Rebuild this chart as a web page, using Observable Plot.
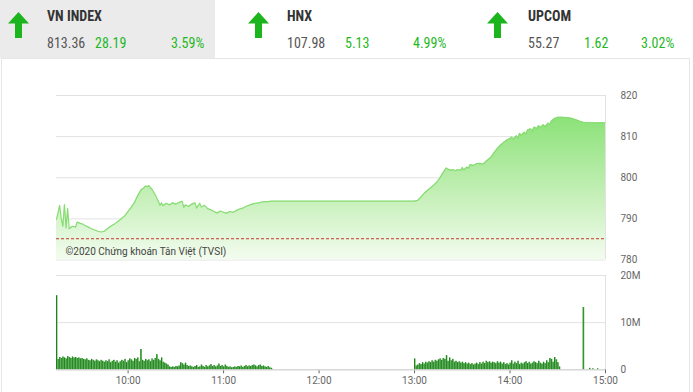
<!DOCTYPE html>
<html><head><meta charset="utf-8">
<script src="https://cdn.jsdelivr.net/npm/d3@7"></script>
<script src="https://cdn.jsdelivr.net/npm/@observablehq/plot@0.6"></script>
<style>
body{margin:0;background:#fff;width:693px;height:392px;overflow:hidden;position:relative;font-family:Roboto,sans-serif}
.tab{position:absolute;left:0;top:0;width:215px;height:58px;background:#ebebeb}
.panel{position:absolute;left:1px;top:58px;width:689px;height:340px;border:1px solid #e6e6e6;box-sizing:border-box}
.arrow{position:absolute;top:12px}
.name{position:absolute;top:8px;font:bold 14px "Roboto Condensed","Liberation Sans Narrow","DejaVu Sans Condensed",sans-serif;color:#333}
.num{position:absolute;top:35px;font:14px "Roboto Condensed","Liberation Sans Narrow","DejaVu Sans Condensed",sans-serif;color:#555}
.g{color:#1fb81f}
#price{position:absolute;left:0;top:58px}
#vol{position:absolute;left:0;top:265px}
svg{background:transparent!important}
</style></head><body>
<div class="tab"></div>
<div class="panel"></div>
<div id="hdr"></div>
<div id="price"></div>
<div id="vol"></div>
<script>
// ---- header data ----
const indexNames = ["VN INDEX", "HNX", "UPCOM"];
const indexValues = ["813.36", "107.98", "55.27"];
const indexChanges = ["28.19", "5.13", "1.62"];
const indexPercents = ["3.59%", "4.99%", "3.02%"];

// ---- price data (VN-Index intraday) ----
const priceTimes = ["9:15","9:16","9:17","9:18","9:19","9:20","9:21","9:22","9:23","9:24","9:25","9:27","9:28","9:30","9:31","9:33","9:35","9:37","9:39","9:41","9:43","9:45","9:47","9:49","9:52","9:55","9:58","10:00","10:02","10:04","10:06","10:08","10:10","10:11","10:12","10:13","10:15","10:17","10:19","10:20","10:21","10:22","10:24","10:26","10:28","10:30","10:32","10:34","10:35","10:36","10:38","10:40","10:42","10:43","10:45","10:46","10:48","10:50","10:52","10:54","10:56","10:58","11:00","11:02","11:04","11:06","11:08","11:10","11:12","11:14","11:16","11:18","11:20","11:22","11:24","11:26","11:28","11:30",
"13:00","13:02","13:04","13:06","13:08","13:10","13:12","13:14","13:16","13:18","13:20","13:21","13:23","13:24","13:26","13:27","13:29","13:30","13:31","13:33","13:34","13:35","13:37","13:39","13:41","13:43","13:45","13:48","13:50","13:52","13:54","13:56","13:58","14:00","14:01","14:02","14:04","14:05","14:06","14:07","14:09","14:10","14:11","14:13","14:14","14:15","14:17","14:18","14:19","14:21","14:22","14:24","14:25","14:26","14:28","14:30","14:33","14:36","14:38","14:40","14:42","14:44","14:46","14:49","15:00"];
const priceValues = [789.9,791.5,793.3,790.0,788.2,793.5,787.8,792.5,787.6,787.9,788.2,788.0,789.2,788.9,788.8,788.4,788.0,787.6,787.3,787.0,786.8,787.0,787.6,788.2,788.9,789.8,790.8,791.8,792.8,794.0,795.6,797.0,797.6,798.0,797.8,798.1,797.2,795.9,794.3,793.3,793.9,793.2,793.8,793.4,793.9,793.6,794.0,794.3,792.8,793.4,793.0,793.6,793.9,792.6,793.8,792.9,793.3,792.5,792.2,791.8,791.4,791.9,791.6,791.4,791.8,791.6,792.0,792.4,792.6,793.0,793.3,793.6,793.8,793.9,794.1,794.2,794.2,794.3,
794.3,794.5,795.3,796.2,796.9,797.5,798.2,798.9,800.0,801.3,802.4,802.1,801.8,802.0,801.7,802.0,801.8,802.5,801.9,802.6,802.3,803.2,803.0,803.4,803.5,803.3,804.0,805.0,806.1,807.1,807.9,808.6,809.2,809.5,809.9,809.4,810.2,809.6,810.8,810.3,811.1,810.6,811.6,811.9,811.3,812.3,812.0,812.7,812.2,812.9,812.4,813.3,812.9,813.8,814.4,814.7,814.7,814.6,814.5,814.3,814.0,813.7,813.5,813.4,813.36];
const prevClose = 785.17;
const priceTicks = [780, 790, 800, 810, 820];
const copyright = "©2020 Chứng khoán Tân Việt (TVSI)";

// ---- volume data (millions of shares, one bar per minute) ----
const volMorningStart = "9:15";
const volMorning = [15.7,2.2,2.6,2.4,2.7,2.5,2.3,2.8,2.6,2.4,2.7,2.5,2.6,2.4,2.5,2.3,2.4,2.2,
2.1,2.3,2.0,1.9,2.2,2.0,1.8,2.1,1.9,1.7,2.0,1.8,1.6,1.9,1.7,2.1,1.5,1.8,2.0,1.6,1.9,1.4,
1.7,2.0,1.8,2.2,1.5,1.9,2.3,2.1,1.8,2.4,2.2,2.5,1.7,4.3,
2.0,1.8,2.2,1.9,2.1,1.7,2.3,2.0,2.4,3.2,
2.2,1.9,2.5,1.6,1.4,1.2,1.0,0.6,0.5,0.6,0.5,0.7,0.6,0.8,1.5,1.3,1.0,1.4,0.9,0.7,
0.8,0.6,0.5,0.7,0.9,0.5,0.6,1.0,0.7,0.5,0.9,0.6,0.8,1.1,0.7,0.9,0.6,0.8,1.2,0.7,
0.9,0.6,1.0,0.7,0.5,0.6,0.4,0.5,0.6,0.5,0.7,0.6,0.8,0.5,0.7,0.9,0.6,0.8,0.7,0.9,1.0,0.8,0.6,0.9,1.0,0.7,0.8,0.6,0.5,0.7,0.4,0.3];
const volAfternoonStart = "13:00";
const volAfternoon = [2.3,0.8,1.0,1.3,1.1,1.5,1.2,1.6,1.4,1.7,1.5,1.9,1.6,2.0,1.8,2.1,
2.3,2.0,2.4,2.2,3.0,
1.8,2.5,1.9,2.2,1.6,1.8,1.5,1.7,1.4,1.6,1.3,1.5,1.2,1.4,1.1,
1.3,1.0,1.2,1.4,1.1,1.5,1.2,1.6,1.3,1.8,1.5,1.7,1.4,1.6,1.5,1.3,1.7,1.4,1.6,1.2,
1.5,1.1,1.3,1.0,1.4,1.9,1.2,1.6,1.3,1.8,1.1,1.4,1.2,1.5,1.7,1.3,1.6,1.2,1.4,1.7,
1.5,1.3,1.8,1.4,1.2,1.6,1.3,1.9,1.5,2.4,2.2,1.6,2.6,2.1,1.5,0.6];
const volCloseTimes = ["14:46","14:50","14:52","14:55"];
const volCloseValues = [13.2,0.3,0.2,0.2];
const volTicks = [0, 10e6, 20e6];
const hourLabels = ["10:00","11:00","12:00","13:00","14:00","15:00"];

// ---- helpers ----
const parseT = s => { const [h, m] = s.split(":").map(Number); return new Date(2020, 0, 1, h, m); };
const addMin = (d, n) => new Date(d.getTime() + n * 60000);
const xDomain = [parseT("9:15"), parseT("15:00")];

// header
const hdr = document.getElementById("hdr");
const xs = [[8,47,95,171],[248,287,345,413],[487,528,584,641]];
indexNames.forEach((n, i) => {
  const [ax, nx, cx, px] = xs[i];
  hdr.insertAdjacentHTML("beforeend",
    `<svg class="arrow" style="left:${ax}px" width="21" height="26" viewBox="0 0 21 26"><path d="M10.5 0 L21 11.5 L14 11.5 L14 26 L7 26 L7 11.5 L0 11.5 Z" fill="#1db51d"/></svg>
     <div class="name" style="left:${nx}px">${n}</div>
     <div class="num" style="left:${nx}px">${indexValues[i]}</div>
     <div class="num g" style="left:${cx}px">${indexChanges[i]}</div>
     <div class="num g" style="left:${px}px">${indexPercents[i]}</div>`);
});

// price chart
const price = priceTimes.map((t, i) => ({t: parseT(t), v: priceValues[i]}));
const gradDefs = () => {
  const ns = "http://www.w3.org/2000/svg";
  const defs = document.createElementNS(ns, "defs");
  defs.innerHTML = `<linearGradient id="pg" x1="0" y1="0" x2="0" y2="1">
    <stop offset="0" stop-color="#8be278"/>
    <stop offset="0.5" stop-color="#c0eeb2"/>
    <stop offset="1" stop-color="#f3fcef"/></linearGradient>`;
  return defs;
};
const priceChart = Plot.plot({
  width: 693, height: 210,
  marginTop: 37, marginBottom: 8.5, marginLeft: 56, marginRight: 88,
  style: {fontSize: "10px", color: "#666", fontFamily: "Roboto, sans-serif", background: "transparent"},
  x: {type: "time", domain: xDomain, axis: null},
  y: {domain: [780, 820], ticks: priceTicks, axis: "right", tickSize: 0, tickPadding: 15, label: null},
  marks: [
    gradDefs,
    Plot.ruleY(priceTicks, {stroke: "#e2e2e2"}),
    Plot.areaY(price, {x: "t", y1: 780, y2: "v", fill: "url(#pg)"}),
    Plot.lineY(price, {x: "t", y: "v", stroke: "#86dc72", strokeWidth: 1.2}),
    Plot.ruleY([prevClose], {stroke: "#c0392b", strokeWidth: 1, strokeDasharray: "3,2"}),
    Plot.ruleX([xDomain[1]], {stroke: "#e2e2e2"}),
    Plot.text([copyright], {frameAnchor: "bottom-left", lineAnchor: "middle", textAnchor: "start", dx: 9, dy: -8.5, fill: "#444", fontSize: 10})
  ]
});
document.getElementById("price").append(priceChart);

// volume chart
const vol = [];
const m0 = parseT(volMorningStart), a0 = parseT(volAfternoonStart);
volMorning.forEach((v, i) => vol.push({t: addMin(m0, i), v: v * 1e6}));
volAfternoon.forEach((v, i) => vol.push({t: addMin(a0, i), v: v * 1e6}));
volCloseTimes.forEach((t, i) => vol.push({t: parseT(t), v: volCloseValues[i] * 1e6}));
vol.forEach(d => d.t2 = addMin(d.t, 1));

const volChart = Plot.plot({
  width: 693, height: 127,
  marginTop: 10, marginBottom: 22.7, marginLeft: 56, marginRight: 88,
  style: {fontSize: "10px", color: "#666", fontFamily: "Roboto, sans-serif", background: "transparent"},
  x: {type: "time", domain: xDomain, ticks: hourLabels.map(parseT), tickFormat: d3.timeFormat("%H:%M"), tickSize: 4, tickPadding: 3, label: null},
  y: {domain: [0, 20e6], ticks: volTicks, axis: "right", tickSize: 0, tickPadding: 15, label: null,
      tickFormat: d => d === 0 ? "0" : (d / 1e6) + "M"},
  marks: [
    Plot.ruleY(volTicks, {stroke: "#e2e2e2"}),
    Plot.ruleX([xDomain[1]], {stroke: "#e2e2e2"}),
    Plot.rectY(vol, {x1: "t", x2: "t2", y: "v", fill: "#6cc562"}),
    Plot.ruleX(vol, {x: "t", y1: 0, y2: "v", stroke: "#237f23", strokeWidth: 1}),
    Plot.ruleY([0], {stroke: "#d0d0d0"})
  ]
});
document.getElementById("vol").append(volChart);
</script>
</body></html>
